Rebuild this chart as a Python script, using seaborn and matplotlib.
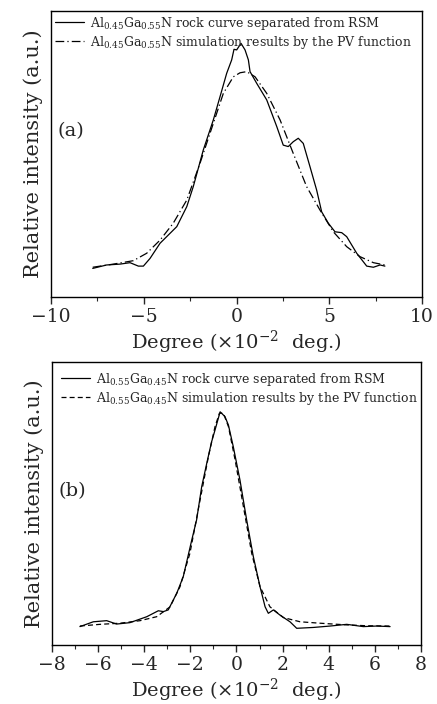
import matplotlib
matplotlib.use("Agg")
import matplotlib.pyplot as plt
from matplotlib.ticker import MultipleLocator
import seaborn as sns
import pandas as pd

# (a) Al0.45Ga0.55N - measured rock curve
a_rsm_x = [-7.75, -7.0, -6.28, -5.74, -5.29, -5.02, -4.66, -4.12, -3.22, -2.68, -2.33,
           -1.79, -1.25, -0.89, -0.53, -0.26, -0.135, 0.01, 0.243, 0.46, 0.64, 0.73,
           1.09, 1.63, 2.17, 2.52, 2.79, 3.06, 3.33, 3.60, 3.96, 4.32, 4.59, 4.95,
           5.31, 5.67, 5.94, 6.48, 7.02, 7.38, 7.74, 8.0]
a_rsm_y = [0.100, 0.112, 0.115, 0.120, 0.108, 0.108, 0.135, 0.188, 0.246, 0.316, 0.386,
           0.514, 0.619, 0.700, 0.782, 0.829, 0.866, 0.864, 0.887, 0.864, 0.829, 0.788,
           0.747, 0.689, 0.596, 0.531, 0.526, 0.543, 0.555, 0.537, 0.456, 0.374, 0.298,
           0.258, 0.228, 0.225, 0.211, 0.153, 0.108, 0.104, 0.112, 0.108]

# (a) PV fit
a_pv_x = [-7.75, -6.64, -5.56, -4.84, -4.12, -3.41, -2.68, -1.97, -1.25, -0.71, -0.17,
          0.19, 0.55, 1.0, 1.63, 2.35, 3.06, 3.78, 4.50, 5.22, 5.94, 6.66, 7.38, 8.0]
a_pv_y = [0.104, 0.115, 0.127, 0.153, 0.199, 0.258, 0.339, 0.467, 0.607, 0.712, 0.770,
          0.784, 0.788, 0.770, 0.712, 0.619, 0.502, 0.386, 0.304, 0.228, 0.176, 0.141,
          0.120, 0.112]

# (b) Al0.55Ga0.45N - measured rock curve
b_rsm_x = [-6.79, -6.21, -5.63, -5.2, -4.62, -3.89, -3.39, -3.17, -2.96, -2.59, -2.31,
           -1.94, -1.73, -1.51, -1.29, -1.08, -0.93, -0.71, -0.50, -0.35, -0.14, 0.15,
           0.44, 0.73, 1.02, 1.24, 1.38, 1.6, 1.88, 2.32, 2.61, 3.33, 4.06, 4.78, 5.5,
           6.08, 6.66]
b_rsm_y = [0.065, 0.082, 0.086, 0.074, 0.079, 0.100, 0.121, 0.118, 0.124, 0.183, 0.241,
           0.371, 0.442, 0.559, 0.642, 0.718, 0.760, 0.824, 0.807, 0.777, 0.701, 0.583,
           0.442, 0.312, 0.206, 0.135, 0.112, 0.124, 0.106, 0.082, 0.059, 0.062, 0.067,
           0.073, 0.065, 0.067, 0.065]

# (b) PV fit
b_pv_x = [-6.79, -5.92, -5.05, -4.18, -3.46, -2.88, -2.45, -2.02, -1.58, -1.22, -0.93,
          -0.74, -0.57, -0.35, -0.06, 0.30, 0.66, 1.02, 1.45, 2.03, 2.76, 3.62, 4.78,
          5.65, 6.66]
b_pv_y = [0.067, 0.073, 0.077, 0.086, 0.100, 0.135, 0.206, 0.324, 0.512, 0.665, 0.772,
          0.819, 0.819, 0.772, 0.654, 0.489, 0.324, 0.206, 0.135, 0.097, 0.082, 0.077,
          0.071, 0.068, 0.067]

sns.set_style("ticks")
plt.rcParams['font.family'] = ['DejaVu Serif']
plt.rcParams['mathtext.fontset'] = 'dejavuserif'

fig = plt.figure(figsize=(4.37, 7.04), dpi=100)
ax1 = fig.add_axes([51/437, 1 - 297/704, 371/437, 286/704])
ax2 = fig.add_axes([52/437, 1 - 645/704, 369/437, 283/704])

df_a1 = pd.DataFrame({'x': a_rsm_x, 'y': a_rsm_y})
df_a2 = pd.DataFrame({'x': a_pv_x, 'y': a_pv_y})
df_b1 = pd.DataFrame({'x': b_rsm_x, 'y': b_rsm_y})
df_b2 = pd.DataFrame({'x': b_pv_x, 'y': b_pv_y})

sns.lineplot(data=df_a1, x='x', y='y', ax=ax1, color='black', lw=0.9, sort=False,
             label=r'Al$_{0.45}$Ga$_{0.55}$N rock curve separated from RSM')
sns.lineplot(data=df_a2, x='x', y='y', ax=ax1, color='black', lw=0.9, sort=False,
             linestyle=(0, (7, 2.5, 1, 2.5)),
             label=r'Al$_{0.45}$Ga$_{0.55}$N simulation results by the PV function')
sns.lineplot(data=df_b1, x='x', y='y', ax=ax2, color='black', lw=0.9, sort=False,
             label=r'Al$_{0.55}$Ga$_{0.45}$N rock curve separated from RSM')
sns.lineplot(data=df_b2, x='x', y='y', ax=ax2, color='black', lw=0.9, sort=False,
             linestyle=(0, (4, 2.5)),
             label=r'Al$_{0.55}$Ga$_{0.45}$N simulation results by the PV function')

for ax, lim, major, minor, tag, tag_y, leg_pad in [
        (ax1, (-10, 10), 5, 2.5, '(a)', 0.58, 0.1),
        (ax2, (-8, 8), 2, 1, '(b)', 0.545, 0.5)]:
    ax.set_xlim(*lim)
    ax.set_ylim(0, 1)
    ax.xaxis.set_major_locator(MultipleLocator(major))
    ax.xaxis.set_minor_locator(MultipleLocator(minor))
    ax.set_yticks([])
    ax.tick_params(axis='x', which='major', length=5, width=1, labelsize=13.5, pad=3,
                   direction='out')
    ax.tick_params(axis='x', which='minor', length=3, width=0.8, direction='out')
    for s in ax.spines.values():
        s.set_linewidth(1)
        s.set_color('black')
    ax.set_xlabel(r'Degree ($\times10^{-2}$  deg.)', fontsize=14, labelpad=2)
    ax.set_ylabel('Relative intensity (a.u.)', fontsize=15, labelpad=6)
    ax.text(0.018, tag_y, tag, transform=ax.transAxes, fontsize=14, va='center')
    ax.legend(loc='upper left', frameon=False, fontsize=9, handlelength=2.3,
              handletextpad=0.5, borderaxespad=leg_pad, borderpad=0.2,
              labelspacing=0.15)

fig.savefig('out.png', dpi=100)
